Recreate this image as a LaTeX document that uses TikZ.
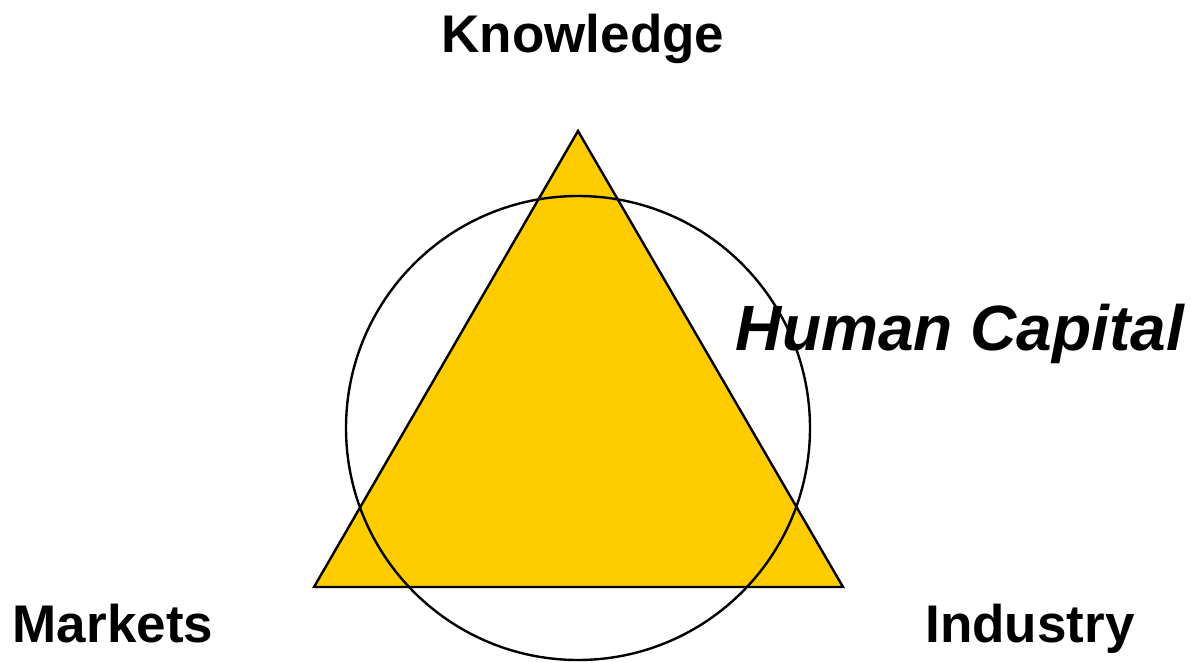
\documentclass[tikz,border=0pt]{standalone}
\usepackage{fontspec}
\setmainfont{Liberation Sans}

\begin{document}
\begin{tikzpicture}[
			x=1pt, y=-1pt,
			label/.style={font=\fontsize{53}{60}\selectfont\bfseries, anchor=base, inner sep=0pt},
			corner/.style={fill={rgb,255:red,255;green,204;blue,0}, draw, line width=2.4pt, line join=miter},
			ring/.style={circle, draw, line width=2.4pt, minimum size=464pt, inner sep=0pt}
			]
			\useasboundingbox (0,0) rectangle (1191,662);
			\coordinate (k) at (578,131);
			\coordinate (m) at (314,587);
			\coordinate (i) at (843,587);
			
			\node[label] (know) at (583,52) {Knowledge};
			\node[label] (mark) at (113,642) {Markets};
			\node[label] (ind) at (1030,642) {Industry};
			\node[label, font=\fontsize{64}{72}\selectfont\bfseries\itshape] (hcap) at (960,350) {Human Capital};
			
			\draw[corner] (k) -- (m) -- (i) -- cycle;
			\node[ring] (hc) at (578,428) {};
		\end{tikzpicture}
\end{document}
